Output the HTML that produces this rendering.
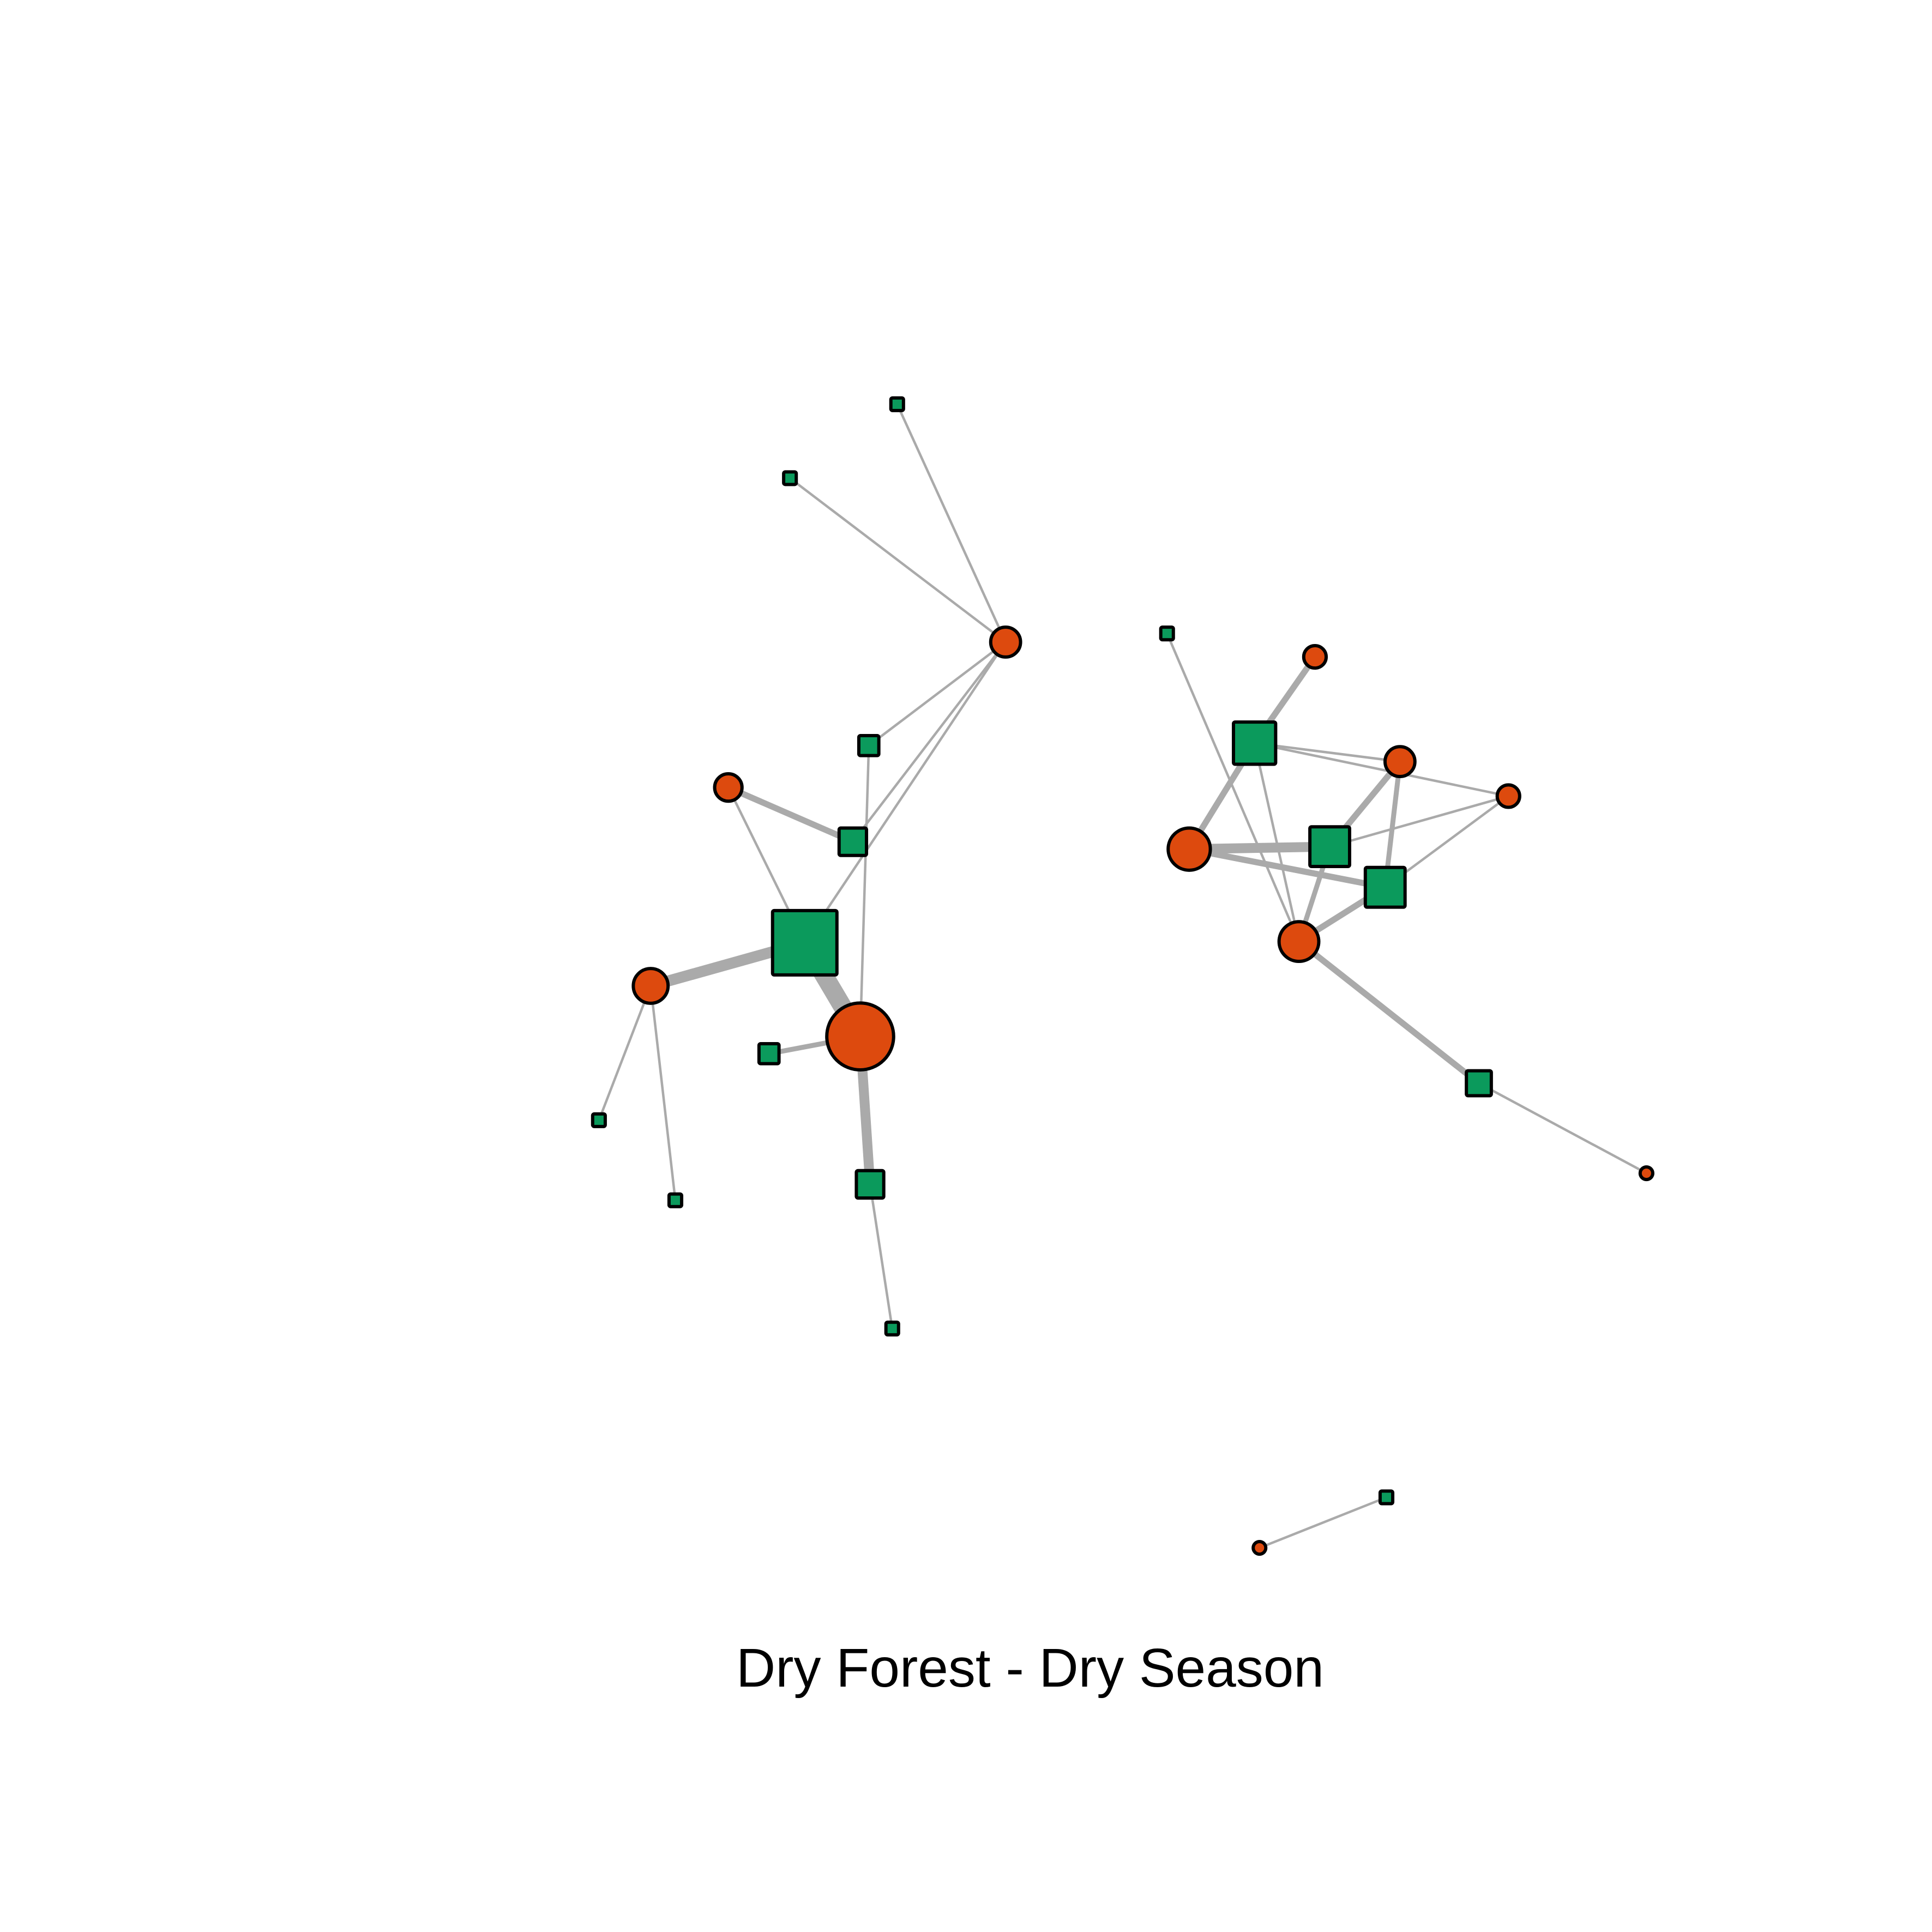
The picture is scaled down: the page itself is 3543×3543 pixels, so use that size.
<!DOCTYPE html>
<html><head><meta charset="utf-8"><style>html,body{margin:0;padding:0;background:#fff}svg{display:block}</style></head>
<body>
<svg id="chart" width="3543" height="3543" viewBox="0 0 3543 3543" xmlns="http://www.w3.org/2000/svg">
<rect width="3543" height="3543" fill="#fff"/>
<g id="edges"></g>
<g id="nodes"></g>
<text x="1889" y="3093" text-anchor="middle" font-family="Liberation Sans, Arial, sans-serif" font-size="100" fill="#000">Dry Forest - Dry Season</text>
</svg>
<script>
const S = 2.26;
const nodeIds = ["A","B","C","D","E","F","G","H","I","J","K","L","M","N","O","P","Q","R","S","T","U","V","W","X","Y","Z","AA"];
const nodeX = [728,641,816,705,591,692,653,528,698,624,486,548,706,724,947,1067,1018,1136,1224,965,1079,1124,1054,1200,1336,1125,1022];
const nodeY = [328,388,521,605,639,683,765,800,841,855,909,974,961,1078,514,533,603,618,646,689,687,720,764,879,952,1215,1256];
const nodeShape = ["s","s","c","s","c","s","s","c","c","s","s","s","s","s","s","c","s","c","c","c","s","s","c","s","c","s","c"];
const nodeSize = [6,6,13,9,12,12,27,15,28,9,6,6,12,6,6,10,18,13,10,18,17,17,17,11,6,6,6];
const edgeFrom = ["A","B","C","C","C","D","E","E","G","G","I","I","H","H","M","O","Q","Q","Q","Q","Q","R","R","U","V","T","T","U","V","W","X","Z"];
const edgeTo   = ["C","C","D","F","G","I","F","G","H","I","J","M","K","L","N","W","P","T","R","S","W","U","V","S","S","U","V","W","W","X","Y","AA"];
const edgeW    = [1,1,1,1,1,1,5,1,9,15,4,8,1,1,1,1,5,5,1,1,1,5,4,1,1,8,5,4,5,5,1,1];
const NS = "http://www.w3.org/2000/svg";
const eg = document.getElementById("edges"), ng = document.getElementById("nodes");
const idx = id => nodeIds.indexOf(id);
edgeFrom.forEach((f,i)=>{
  const a=idx(f), b=idx(edgeTo[i]);
  const l=document.createElementNS(NS,"line");
  l.setAttribute("x1",nodeX[a]*S);l.setAttribute("y1",nodeY[a]*S);
  l.setAttribute("x2",nodeX[b]*S);l.setAttribute("y2",nodeY[b]*S);
  l.setAttribute("stroke","#aaaaaa");
  l.setAttribute("stroke-width",Math.max(4.5,edgeW[i]*S));
  
  
  eg.appendChild(l);
});
nodeIds.forEach((id,i)=>{
  const cx=nodeX[i]*S, cy=nodeY[i]*S, r=nodeSize[i]*S;
  let el;
  if(nodeShape[i]==="c"){
    el=document.createElementNS(NS,"circle");
    el.setAttribute("cx",cx);el.setAttribute("cy",cy);el.setAttribute("r",r-2);
    el.setAttribute("fill","#dd4a0e");
  } else {
    el=document.createElementNS(NS,"rect");
    el.setAttribute("x",cx-r+2);el.setAttribute("y",cy-r+2);
    el.setAttribute("width",2*r-4);el.setAttribute("height",2*r-4);
    el.setAttribute("rx",3);
    el.setAttribute("fill","#0b9a5c");
  }
  el.setAttribute("stroke","#000");el.setAttribute("stroke-width",6);
  
  
  ng.appendChild(el);
});
</script>
</body></html>
